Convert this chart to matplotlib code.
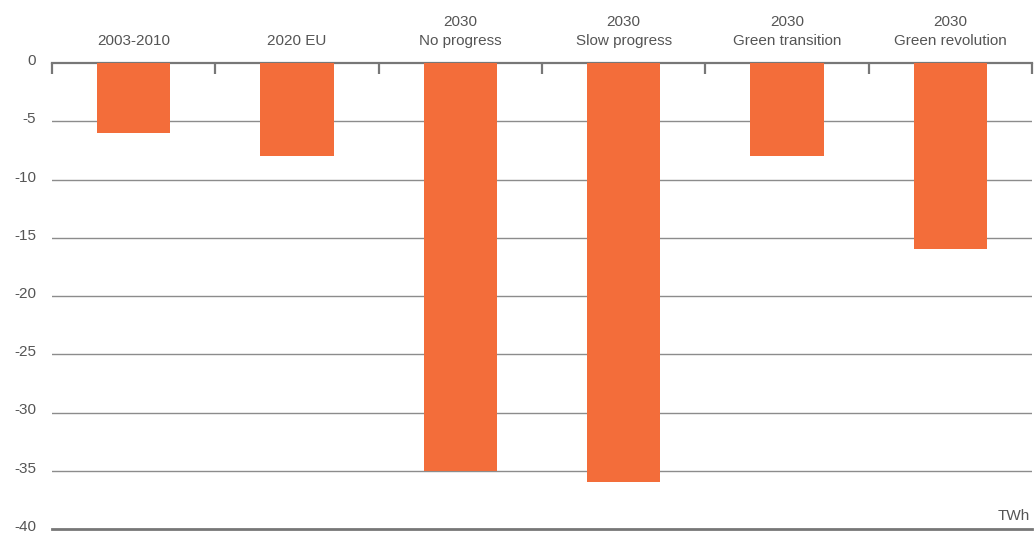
import matplotlib
matplotlib.use("Agg")
import matplotlib.pyplot as plt
import matplotlib.transforms as mtransforms
import numpy as np

categories = ["2003-2010", "2020 EU", "2030\nNo progress", "2030\nSlow progress",
              "2030\nGreen transition", "2030\nGreen revolution"]
values = [-6, -8, -35, -36, -8, -16]
y_ticks = [0, -5, -10, -15, -20, -25, -30, -35, -40]
unit_label = "TWh"

bar_color = "#F36D3A"
text_color = "#555555"
grid_color = "#8C8C8C"
axis_color = "#777777"

plt.rcParams["font.family"] = ["Liberation Sans", "DejaVu Sans"]

fig = plt.figure(figsize=(10.34, 5.34), dpi=100)
ax = fig.add_axes([52 / 1034, 1 - 529 / 534, 980 / 1034, (529 - 63) / 534])

x = np.arange(len(categories))
ax.bar(x, values, width=0.45, color=bar_color, zorder=3)

ax.set_xlim(-0.5, len(categories) - 0.5)
ax.set_ylim(-40, 0)

# horizontal gridlines behind the bars
for v in y_ticks[1:-1]:
    ax.axhline(v, color=grid_color, lw=1.0, zorder=1)

# spines: zero line on top, heavy baseline at -40
for side in ("left", "right"):
    ax.spines[side].set_visible(False)
ax.spines["top"].set_color(axis_color)
ax.spines["top"].set_linewidth(1.6)
ax.spines["top"].set_zorder(2)
ax.spines["bottom"].set_color(axis_color)
ax.spines["bottom"].set_linewidth(2.0)

# category labels along the top, separators as minor ticks
ax.xaxis.set_ticks_position("top")
ax.set_xticks(x)
ax.set_xticklabels(categories, linespacing=1.4)
ax.set_xticks(np.arange(-0.5, len(categories)), minor=True)
ax.tick_params(axis="x", which="major", length=0, pad=11,
               labelsize=11, labelcolor=text_color)
ax.tick_params(axis="x", which="minor", length=8, width=1.6,
               color=axis_color, direction="in")

ax.set_yticks(y_ticks)
ax.set_yticklabels([str(v) for v in y_ticks])
ax.tick_params(axis="y", length=0, pad=11.5, labelsize=11, labelcolor=text_color)
# value labels sit slightly above their gridlines
shift = mtransforms.ScaledTranslation(0, 3.5 / 100, fig.dpi_scale_trans)
for lbl in ax.get_yticklabels():
    lbl.set_transform(lbl.get_transform() + shift)

ax.text(0.998, 0.012, unit_label, transform=ax.transAxes, ha="right", va="bottom",
        fontsize=11, color=text_color)

fig.savefig("out.png", dpi=100)
